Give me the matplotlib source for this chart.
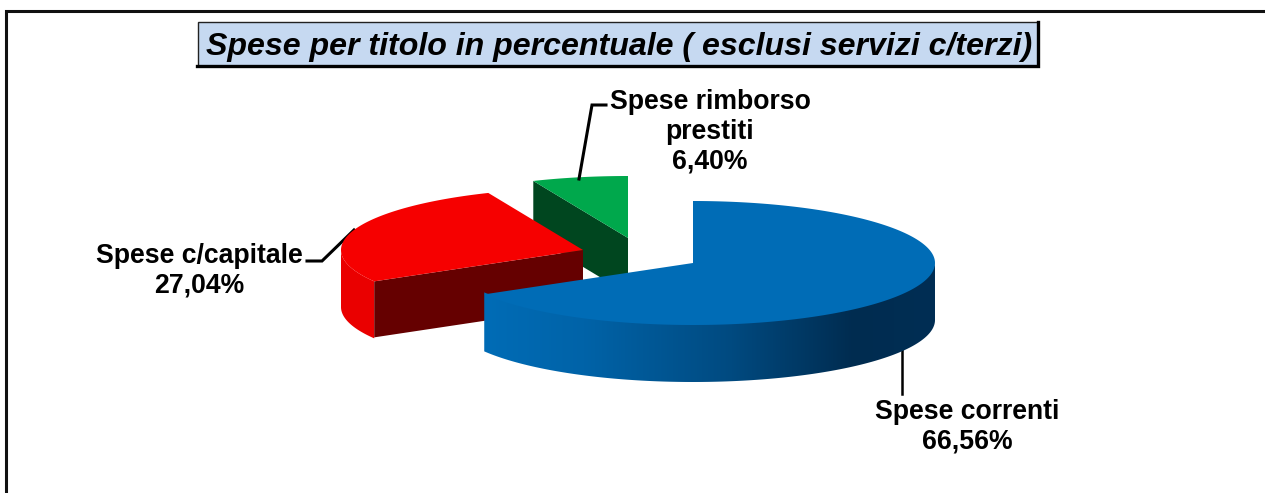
import numpy as np
import matplotlib
matplotlib.use('Agg')
import matplotlib.pyplot as plt
from matplotlib.colors import LinearSegmentedColormap
from matplotlib.patches import Polygon, Rectangle

plt.rcParams['font.family'] = ['Liberation Sans', 'DejaVu Sans']

# data
titolo = 'Spese per titolo in percentuale ( esclusi servizi c/terzi)'
categorie = ['Spese correnti', 'Spese c/capitale', 'Spese rimborso\nprestiti']
valori = [66.56, 27.04, 6.40]

# pie geometry, in pixels
RX = 242
RY = 62
DEPTH = 56
centri = [(693, 263), (583, 250), (628, 238)]
col_top = ['#006CB6', '#F60000', '#00A84C']
col_face = ['#004070', '#650000', '#00461F']
col_side = ['#006CB6', '#EA0000', '#00A84C']
label_pos = [(967, 427), (199, 271), (710, 132)]

grad_blu = LinearSegmentedColormap.from_list(
    'blu', [(0, '#006CB6'), (0.22, '#0063A8'), (0.55, '#004A80'), (0.82, '#002C50'), (1, '#002E54')])

fig = plt.figure(figsize=(12.65, 4.93), dpi=100)
ax = fig.add_axes([0, 0, 1, 1])


def arco(c, a0, a1, n=120):
    # angles in degrees, clockwise from 12 o'clock
    t = np.radians(np.linspace(a0, a1, n))
    return c[0] + RX * np.sin(t), c[1] - RY * np.cos(t)


def punto(c, a):
    t = np.radians(a)
    return c[0] + RX * np.sin(t), c[1] - RY * np.cos(t)


# cornice
ax.add_patch(Rectangle((6, 11), 1300, 520, fc='white', ec='#111111', lw=2.2, zorder=0))

limiti = np.concatenate([[0], np.cumsum(valori)]) * 3.6

# verde
c = centri[2]
a0, a1 = limiti[2], limiti[3]
p = punto(c, a0)
ax.add_patch(Polygon([p, c, (c[0], c[1] + DEPTH), (p[0], p[1] + DEPTH)], fc=col_face[2], ec='none', zorder=1))
x, y = arco(c, a0, a1)
ax.add_patch(Polygon(np.r_[np.c_[x, y], [c]], fc=col_top[2], ec='none', zorder=2))

# rosso
c = centri[1]
a0, a1 = limiti[1], limiti[2]
x, y = arco(c, a0, 270)
ax.add_patch(Polygon(np.r_[np.c_[x, y], np.c_[x, y + DEPTH + 1][::-1]], fc=col_side[1], ec='none', zorder=3))
p = punto(c, a0)
ax.add_patch(Polygon([p, c, (c[0], c[1] + DEPTH), (p[0], p[1] + DEPTH)], fc=col_face[1], ec='none', zorder=3))
x, y = arco(c, a0, a1)
ax.add_patch(Polygon(np.r_[np.c_[x, y], [c]], fc=col_top[1], ec='none', zorder=4))

# blu, side with gradient
c = centri[0]
a0, a1 = limiti[0], limiti[1]
x, y = arco(c, 90, a1, 300)
fianco = Polygon(np.r_[np.c_[x, y - 2], np.c_[x, y + DEPTH + 1][::-1]], fc='none', ec='none',
                 transform=ax.transData)
ax.add_patch(fianco)
im = ax.imshow(np.linspace(0, 1, 256).reshape(1, -1), cmap=grad_blu, aspect='auto',
               extent=(x.min(), x.max(), y.max() + DEPTH + 2, y.min() - 3), zorder=5)
im.set_clip_path(fianco)
x, y = arco(c, a0, a1, 300)
ax.add_patch(Polygon(np.r_[np.c_[x, y], [c]], fc=col_top[0], ec='none', zorder=6))

# linee guida
ax.plot([902, 902], [350, 394], color='black', lw=1.8, zorder=4)
ax.plot([354, 322, 307], [230, 261, 261], color='black', lw=2.2, zorder=2, solid_joinstyle='miter')
ax.plot([579, 592, 606], [179, 105, 105], color='black', lw=2.2, zorder=3, solid_joinstyle='miter')

# etichette
for nome, val, pos in zip(categorie, valori, label_pos):
    testo = nome + '\n' + f'{val:.2f}'.replace('.', ',') + '%'
    ax.text(pos[0], pos[1], testo, ha='center', va='center', fontsize=19.2, fontweight='bold',
            color='black', linespacing=1.19, zorder=8)

# titolo
ax.add_patch(Rectangle((197.5, 21.5), 840, 44, fc='#C6D9F1', ec='#222222', lw=1, zorder=8))
ax.plot([197, 1038, 1038], [66, 66, 22], color='black', lw=2.4, zorder=9, solid_joinstyle='miter')
ax.text(619, 47, titolo, ha='center', va='center', fontsize=23.1, fontweight='bold', style='italic',
        color='black', zorder=10)

ax.set_xlim(0, 1265)
ax.set_ylim(493, 0)
ax.axis('off')

fig.savefig('out.png', dpi=100)
